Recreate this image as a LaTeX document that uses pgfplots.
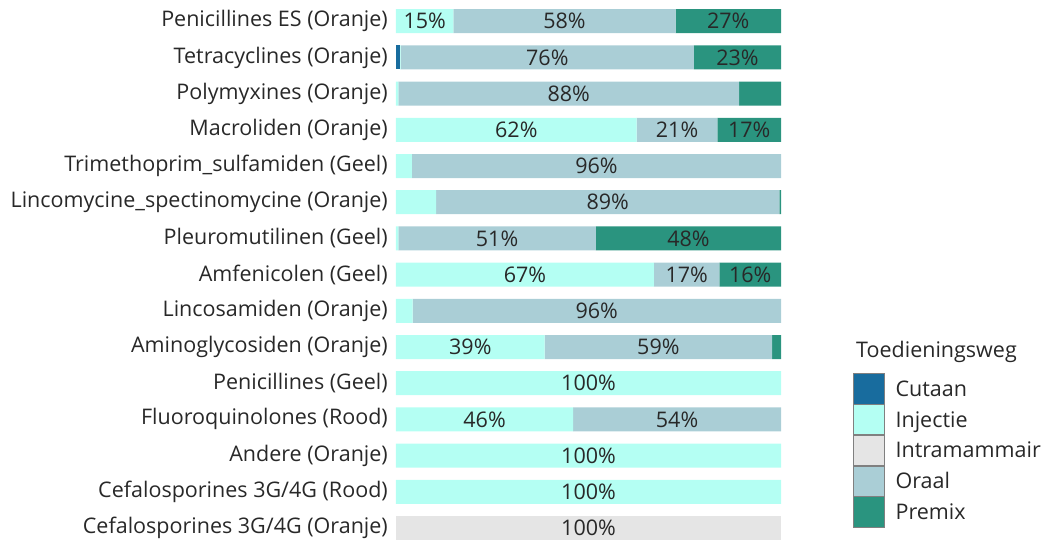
\documentclass[border=0pt]{standalone}
\usepackage{fontspec}
\setmainfont{Open Sans}
\usepackage{pgfplots}
\usepackage{pgfplotstable}
\pgfplotsset{compat=1.18}
\definecolor{cCut}{RGB}{24,108,158}
\definecolor{cInj}{RGB}{180,255,243}
\definecolor{cIntra}{RGB}{229,229,229}
\definecolor{cOraal}{RGB}{170,206,214}
\definecolor{cPremix}{RGB}{42,148,127}
\definecolor{txt}{RGB}{40,40,40}
\pgfplotstableread{
y cut inj intra oraal premix
0 0 0 100 0 0
1 0 100 0 0 0
2 0 100 0 0 0
3 0 46 0 54 0
4 0 100 0 0 0
5 0 38.6 0 59.1 2.3
6 0 4.3 0 95.7 0
7 0 67 0 17 16
8 0 0.6 0 51.3 48.1
9 0 10.4 0 89.2 0.4
10 0 4.1 0 95.9 0
11 0 62.5 0 21.0 16.5
12 0 0.6 0 88.5 10.9
13 1.0 0.2 0 76.2 22.6
14 0 14.9 0 57.7 27.4
}\datatable
\pgfplotstableread{
x y lab
50 0 100
50 1 100
50 2 100
23 3 46
73 3 54
50 4 100
19.3 5 39
68.15 5 59
52.15 6 96
33.5 7 67
75.5 7 17
92 7 16
26.25 8 51
75.95 8 48
55 9 89
52.05 10 96
31.25 11 62
73 11 21
91.75 11 17
44.85 12 88
39.3 13 76
88.7 13 23
7.45 14 15
43.75 14 58
86.3 14 27
}\labtable
\pgfplotsset{
  myleg/.style={legend image code/.code={\draw[##1, draw=gray] (0pt,-7.5pt) rectangle (31pt,22.9pt);}},
  geom/.style={at={(396pt,0.33pt)}, anchor=south west, scale only axis,
    width=385pt, height=532.1pt, xmin=0, xmax=100, ymin=-0.35, ymax=14.35},
}
\begin{document}
\fontsize{21.5}{24}\selectfont
\begin{tikzpicture}
\useasboundingbox (0pt,0pt) rectangle (1045pt,541pt);
\begin{axis}[geom,
  xbar stacked, bar width=24pt,
  axis line style={draw=none}, major tick length=0pt,
  xtick=\empty,
  ytick={0,...,14},
  yticklabels={Cefalosporines 3G/4G (Oranje),Cefalosporines 3G/4G (Rood),Andere (Oranje),Fluoroquinolones (Rood),Penicillines (Geel),Aminoglycosiden (Oranje),Lincosamiden (Oranje),Amfenicolen (Geel),Pleuromutilinen (Geel),Lincomycine\_spectinomycine (Oranje),Trimethoprim\_sulfamiden (Geel),Macroliden (Oranje),Polymyxines (Oranje),Tetracyclines (Oranje),Penicillines ES (Oranje)},
  yticklabel style={inner sep=0pt, xshift=-8pt, text=txt, font=\fontsize{21.5}{24}\selectfont},
  legend style={at={(1.187,0.315)}, anchor=north west, draw=none, fill=none,
    inner sep=0pt, row sep=0pt, cells={anchor=base west},
    nodes={inner sep=0pt, text=txt, font=\fontsize{21.5}{24}\selectfont},
    /tikz/every odd column/.append style={column sep=11pt}},
]
\addplot[fill=cCut, draw=none, myleg] table[x=cut, y=y] {\datatable};
\addlegendentry{Cutaan}
\addplot[fill=cInj, draw=none, myleg] table[x=inj, y=y] {\datatable};
\addlegendentry{Injectie}
\addplot[fill=cIntra, draw=none, myleg] table[x=intra, y=y] {\datatable};
\addlegendentry{Intramammair}
\addplot[fill=cOraal, draw=none, myleg] table[x=oraal, y=y] {\datatable};
\addlegendentry{Oraal}
\addplot[fill=cPremix, draw=none, myleg] table[x=premix, y=y] {\datatable};
\addlegendentry{Premix}
\end{axis}
\begin{axis}[geom, hide axis]
\addplot[draw=none, mark=none, nodes near coords={\pgfplotspointmeta\%},
  point meta=explicit symbolic,
  every node near coord/.append style={anchor=center, inner sep=0pt, text=txt, font=\fontsize{21.5}{24}\selectfont}]
  table[x=x, y=y, meta=lab] {\labtable};
\end{axis}
\node[anchor=base west, inner sep=0pt, text=txt] at (856pt,183pt) {Toedieningsweg};
\end{tikzpicture}
\end{document}
